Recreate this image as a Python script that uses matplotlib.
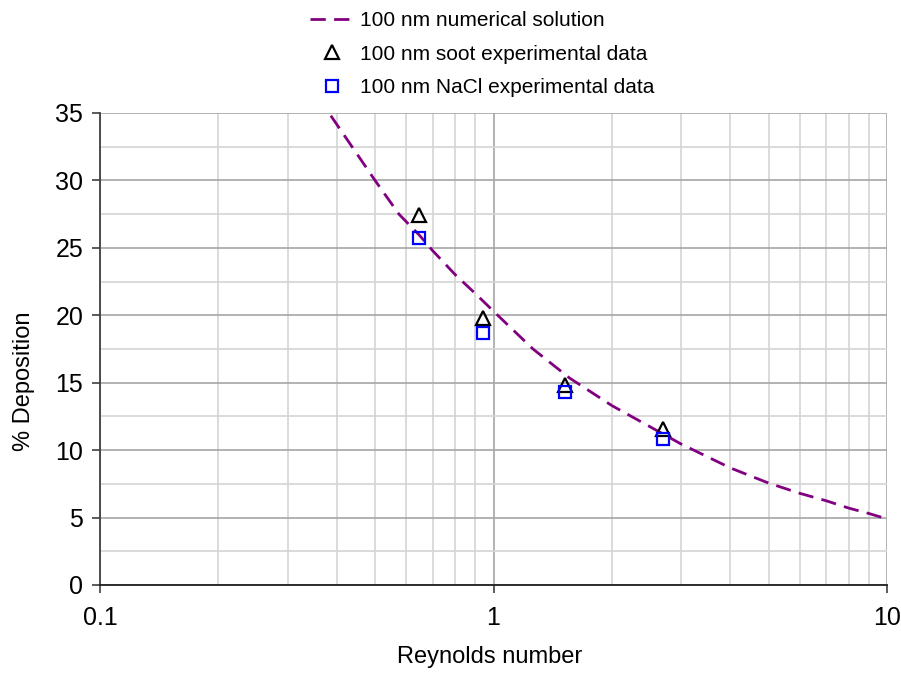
import matplotlib
matplotlib.use("Agg")
import matplotlib.pyplot as plt
from matplotlib.ticker import FixedLocator, NullFormatter, LogLocator, MultipleLocator
from matplotlib.lines import Line2D

plt.rcParams['font.family'] = ['Liberation Sans', 'DejaVu Sans']

# Numerical solution curve (100 nm)
re_num = [0.386, 0.5, 0.575, 0.65, 0.7, 0.8, 0.9, 1.0, 1.26, 1.56, 2.0, 3.0,
          4.0, 5.0, 6.0, 7.0, 8.0, 9.0, 10.0]
dep_num = [34.8, 30.0, 27.5, 25.9, 24.8, 23.0, 21.6, 20.3, 17.5, 15.35, 13.3, 10.45,
           8.68, 7.56, 6.8, 6.25, 5.7, 5.3, 4.9]

# Experimental data
re_soot = [0.646, 0.938, 1.52, 2.70]
dep_soot = [27.4, 19.8, 14.8, 11.6]
re_nacl = [0.646, 0.938, 1.52, 2.70]
dep_nacl = [25.7, 18.7, 14.3, 10.8]

x_ticks = [0.1, 1, 10]
x_tick_labels = ['0.1', '1', '10']

W, H = 901, 677
fig = plt.figure(figsize=(W / 100, H / 100), dpi=100)
ax = fig.add_axes([100 / W, 92 / H, 787 / W, 472 / H])

ax.set_xscale('log')
ax.set_xlim(0.1, 10)
ax.set_ylim(0, 35)

# grid
ax.yaxis.set_major_locator(MultipleLocator(5))
ax.yaxis.set_minor_locator(MultipleLocator(2.5))
ax.xaxis.set_major_locator(FixedLocator(x_ticks))
ax.xaxis.set_minor_locator(LogLocator(base=10, subs=range(2, 10)))
ax.xaxis.set_minor_formatter(NullFormatter())
ax.set_xticklabels(x_tick_labels)
ax.grid(which='major', color='#a6a6a6', linewidth=1.2, zorder=0)
ax.grid(which='minor', color='#d4d4d4', linewidth=1.2, zorder=0)
ax.set_axisbelow(True)

for s in ['top', 'right']:
    ax.spines[s].set_visible(False)
ax.spines['left'].set_color('#404040')
ax.spines['bottom'].set_color('#202020')
ax.spines['left'].set_linewidth(1.3)
ax.spines['bottom'].set_linewidth(1.3)

ax.tick_params(axis='both', which='major', direction='out', length=6, width=1.2,
               color='#404040', labelsize=18, pad=6)
ax.tick_params(axis='both', which='minor', length=0)
ax.tick_params(axis='x', which='major', pad=9)

ax.plot(re_num, dep_num, color='#800080', linewidth=2.0, dashes=(5.5, 3),
        zorder=3, clip_on=False)
ax.plot(re_soot, dep_soot, linestyle='none', marker='^', markersize=10,
        markerfacecolor='none', markeredgecolor='black', markeredgewidth=1.6, zorder=4)
ax.plot(re_nacl, dep_nacl, linestyle='none', marker='s', markersize=8,
        markerfacecolor='none', markeredgecolor='#0000ff', markeredgewidth=1.6, zorder=5)

# axis titles
fig.text(490 / W, 1 - 663 / H, 'Reynolds number', fontsize=17, ha='center', va='baseline')
fig.text(24 / W, 1 - 381 / H, '% Deposition', fontsize=17, ha='center', va='center',
         rotation=90)

handles = [
    Line2D([], [], color='#800080', linewidth=2.0, dashes=(5.5, 3)),
    Line2D([], [], linestyle='none', marker='^', markersize=10, markerfacecolor='none',
           markeredgecolor='black', markeredgewidth=1.6),
    Line2D([], [], linestyle='none', marker='s', markersize=8, markerfacecolor='none',
           markeredgecolor='#0000ff', markeredgewidth=1.6),
]
labels = ['100 nm numerical solution', '100 nm soot experimental data',
          '100 nm NaCl experimental data']
fig.legend(handles, labels, loc='upper left', bbox_to_anchor=(302 / W, 1.0 - 3 / H),
           frameon=False, fontsize=15, handlelength=2.1, handletextpad=0.29,
           labelspacing=0.69, borderaxespad=0)

fig.savefig('out.png', dpi=100)
